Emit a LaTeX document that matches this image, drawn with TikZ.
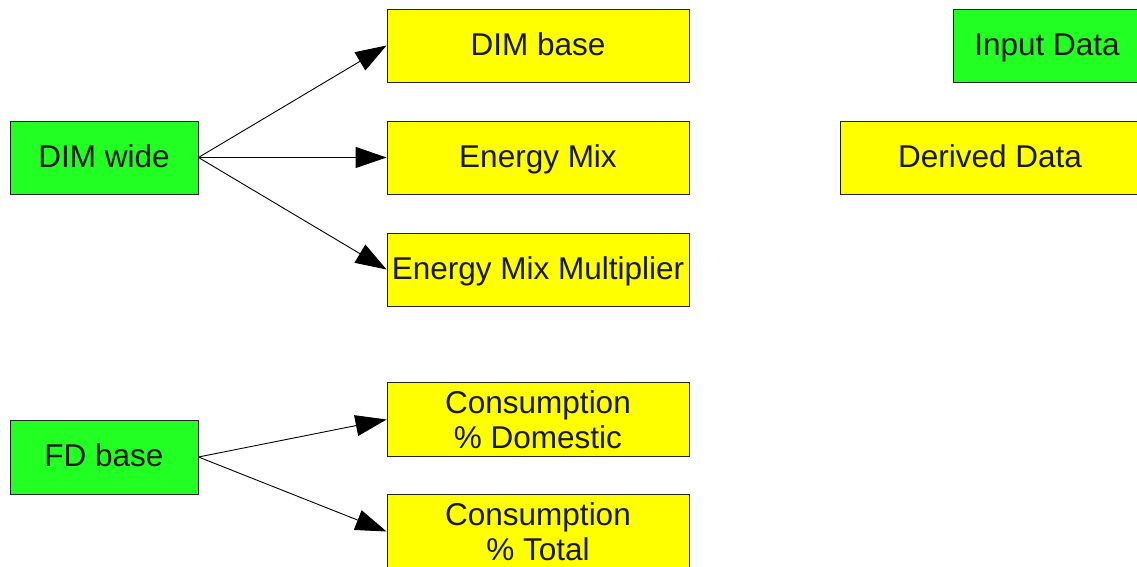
\documentclass[tikz,border=0pt]{standalone}
\usepackage{fontspec}
\setmainfont{Liberation Sans}
\usetikzlibrary{arrows.meta}
\definecolor{ingreen}{HTML}{22FF22}
\definecolor{deryellow}{HTML}{FFFF00}
\definecolor{edge}{HTML}{222222}
\begin{document}
\begin{tikzpicture}[x=1pt,y=-1pt,
  box/.style={draw=edge,line width=0.9pt,rectangle,inner sep=0pt,align=center,
    font=\fontsize{31.5}{35}\selectfont,text=black!90},
  oneline/.style={text height=26pt,text depth=6.8pt},
  inbox/.style={box,fill=ingreen,minimum width=188pt},
  derbox/.style={box,fill=deryellow,minimum width=302pt},
  arr/.style={draw=black,line width=0.9pt,-{Triangle[length=31pt,width=21pt]}}]
\useasboundingbox (0,0) rectangle (1137,567);
\node[inbox,oneline,minimum height=73pt] (dimwide) at (104,157.5) {DIM wide};
\node[inbox,oneline,minimum height=74pt] (fdbase) at (104,457) {FD base};
\node[derbox,oneline,minimum height=73pt] (dimbase) at (538,45.5) {DIM base};
\node[derbox,oneline,minimum height=73pt] (emix) at (538,157.5) {Energy Mix};
\node[derbox,oneline,minimum height=73pt] (emm) at (538,269.5) {Energy Mix Multiplier};
\node[derbox,minimum height=74pt] (cdom) at (538,419.5) {Consumption\\\% Domestic};
\node[derbox,minimum height=74pt] (ctot) at (538,531.5) {Consumption\\\% Total};
\node[inbox,oneline,minimum height=73pt] (input) at (1047,45.5) {Input Data};
\node[derbox,oneline,minimum width=300pt,minimum height=73pt] (derived) at (990,157.5) {Derived Data};
\draw[arr] (dimwide.east) -- (dimbase.west);
\draw[arr] (dimwide.east) -- (emix.west);
\draw[arr] (dimwide.east) -- (emm.west);
\draw[arr] (fdbase.east) -- (cdom.west);
\draw[arr] (fdbase.east) -- (ctot.west);
\end{tikzpicture}
\end{document}
